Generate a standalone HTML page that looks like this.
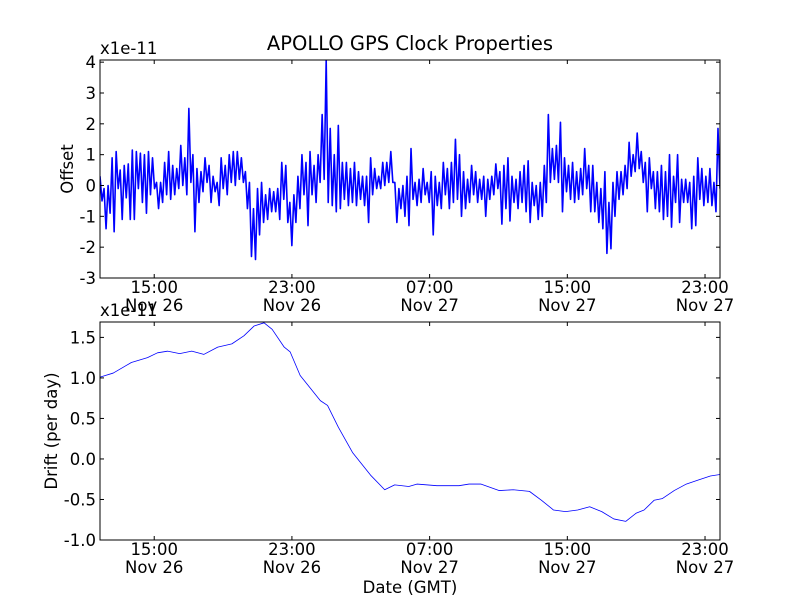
<!DOCTYPE html>
<html><head><meta charset="utf-8"><style>
body{margin:0;background:#fff}
svg text{font-family:"DejaVu Sans","Liberation Sans",sans-serif;fill:#000}
</style></head><body>
<svg id="chart" width="800" height="600" viewBox="0 0 800 600" xmlns="http://www.w3.org/2000/svg">
<rect width="800" height="600" fill="#fff"/>
<text x="410" y="50" font-size="19.5" text-anchor="middle">APOLLO GPS Clock Properties</text>
<g id="g1"></g>
<g id="g2"></g>
<text x="410" y="593" font-size="16.5" text-anchor="middle">Date (GMT)</text>
</svg>
<script>
const tStart = 11.85, tEnd = 47.87;
const xTickHours = [15, 23, 31, 39, 47];
const xTickTimes = ["15:00","23:00","07:00","15:00","23:00"];
const xTickDates = ["Nov 26","Nov 26","Nov 27","Nov 27","Nov 27"];
const offsetTicks = [-3,-2,-1,0,1,2,3,4];
const offsetTickLabels = ["-3","-2","-1","0","1","2","3","4"];
const driftTicks = [-1.0,-0.5,0.0,0.5,1.0,1.5];
const driftTickLabels = ["-1.0","-0.5","0.0","0.5","1.0","1.5"];
const offsetValues = [0.3,-0.5,-0.1,-1.4,0,-0.9,0.9,-1.5,1.1,-0.1,0.5,-1.1,0.65,-0.4,0.7,-1.1,1.15,-1.1,1.1,-0.1,1.05,-0.55,1.0,-0.9,1.1,-0.3,0.9,-0.1,0.1,-0.75,0.1,-0.55,0.75,-0.3,1.1,-0.45,0.65,-0.3,0.55,-0.1,1.3,0,0.9,-0.3,2.5,0.1,1.0,-1.5,0.55,-0.55,0.45,-0.2,0.9,0.1,0.65,-0.55,0.3,-0.2,0.1,-0.65,0.9,-0.1,0.65,-0.3,1.0,0.1,1.1,0,1.1,0.2,0.9,0.1,0.45,-0.75,0.1,-2.3,-0.75,-2.4,-0.1,-1.6,0.1,-1.2,-0.3,-1.1,-0.1,-0.85,-0.2,-0.85,-0.1,-1.1,0.75,-0.45,0.65,-1.2,-0.55,-1.95,-0.3,-1.2,0.3,-0.75,1.0,-0.3,0.75,-1.3,1.1,-0.3,0.65,-0.55,1.0,0.1,2.3,0.2,4.07,-0.55,1.85,-0.65,1.0,-0.85,1.95,-0.75,0.75,-0.45,0.75,-0.65,0.55,-0.55,0.75,-0.65,0.45,-0.45,0.3,-0.65,0.3,-1.2,0.9,-0.3,0.55,-0.1,0.3,-0.1,0.75,0,0.75,0.1,1.1,0.1,0.1,-1.2,-0.1,-0.75,0,-1.0,0.3,-1.3,
1.2,-0.45,0.1,-0.65,0.2,-0.55,0.55,-0.3,0.1,-0.55,0.45,-1.6,0.3,-0.65,0.1,-0.75,0.75,-0.3,0.55,-0.75,0.75,-0.55,1.5,-0.45,1.0,-1.0,0.45,-0.75,0.2,-0.55,0.65,-0.3,0.45,-0.55,0.2,-0.45,0.3,-1.0,0.2,-0.45,0.3,-0.3,0.7,-0.1,0.45,-1.25,0.65,-0.75,0.9,-1.15,0.3,-0.55,0.2,-0.75,0.45,-0.55,0.65,-0.85,0.8,-1.2,0.1,-0.65,0,-1.1,0.1,-1.0,0.65,-0.55,2.3,0.1,1.2,0.2,1.3,0.1,2.05,-0.85,0.9,-0.2,0.65,-0.45,0.75,-0.55,0.45,-0.45,0.55,-0.3,1.2,-0.1,0.65,-0.85,0.65,-0.85,0.1,-1.2,-0.1,-1.4,0.45,-2.2,-0.55,-2.05,0.1,-1.0,0.45,-0.45,0.45,-0.3,0.65,-0.1,1.4,0.3,1.0,0.45,1.7,0.55,1.1,0.1,0.75,-0.85,0.9,-0.1,0.45,-0.75,0.45,-0.85,0.65,-1.1,0.45,-1.0,1.0,-1.35,0.3,-0.55,1.0,-1.2,0.2,-0.55,0.2,-0.55,0.1,-1.4,0.3,-1.3,0.9,-0.45,0.55,-0.65,0.3,-0.55,0.55,-0.65,0.1,-0.85,1.85,-0.1];
const driftHours = [11.85,12.62,13.67,14.61,15.19,15.77,16.48,17.18,17.88,18.69,19.51,20.21,20.80,21.38,21.85,22.55,22.90,23.48,24.65,25.07,25.70,26.52,27.57,28.39,28.97,29.79,30.26,31.42,32.71,33.29,33.99,35.05,35.86,36.80,37.50,38.20,38.90,39.60,40.30,41.00,41.70,42.40,42.99,43.46,44.04,44.51,45.21,45.91,46.61,47.31,47.92];
const driftValues = [1.01,1.06,1.19,1.25,1.31,1.33,1.30,1.33,1.29,1.38,1.42,1.52,1.64,1.68,1.60,1.38,1.32,1.03,0.72,0.66,0.39,0.08,-0.20,-0.38,-0.32,-0.34,-0.31,-0.33,-0.33,-0.31,-0.31,-0.39,-0.38,-0.40,-0.51,-0.63,-0.65,-0.63,-0.59,-0.65,-0.74,-0.77,-0.67,-0.63,-0.51,-0.49,-0.39,-0.31,-0.26,-0.21,-0.19];

const NS='http://www.w3.org/2000/svg';
function mk(parent,tag,attrs,txt){const e=document.createElementNS(NS,tag);for(const k in attrs)e.setAttribute(k,attrs[k]);if(txt!==undefined)e.textContent=txt;parent.appendChild(e);return e;}
const L=100,R=720;
const xs=h=>L+(h-tStart)/(tEnd-tStart)*(R-L);

function panel(g,top,bot,ymin,ymax,ticks,labels,ylabel,ylx,lineW,hrs,vals){
  const ys=v=>bot-(v-ymin)/(ymax-ymin)*(bot-top);
  let d='';
  for(let i=0;i<vals.length;i++){
    const h=hrs?hrs[i]:tStart+i/(vals.length-1)*(tEnd-tStart);
    d+=(i?'L':'M')+xs(h).toFixed(2)+' '+ys(vals[i]).toFixed(2);
  }
  const clip=mk(g,'clipPath',{id:'c'+top});
  mk(clip,'rect',{x:L,y:top,width:R-L,height:bot-top});
  const line=mk(g,'path',{d:d,fill:'none',stroke:'#0000ff','stroke-width':lineW,'stroke-linejoin':'round','clip-path':'url(#c'+top+')'});
  
  
  ticks.forEach((v,i)=>{
    const y=ys(v);
    mk(g,'line',{x1:L,x2:L+4,y1:y,y2:y,stroke:'#000'});
    mk(g,'line',{x1:R-4,x2:R,y1:y,y2:y,stroke:'#000'});
    const t=mk(g,'text',{x:L-4,y:y+6,'font-size':16.5,'text-anchor':'end'},labels[i]);
    
    
  });
  xTickHours.forEach((h,i)=>{
    const x=xs(h);
    mk(g,'line',{x1:x,x2:x,y1:bot,y2:bot-4,stroke:'#000'});
    mk(g,'line',{x1:x,x2:x,y1:top,y2:top+4,stroke:'#000'});
    const t1=mk(g,'text',{x:x,y:bot+15,'font-size':16.5,'text-anchor':'middle'},xTickTimes[i]);
    
    
    const t2=mk(g,'text',{x:x,y:bot+33,'font-size':16.5,'text-anchor':'middle'},xTickDates[i]);
    
    
  });
  const fr=mk(g,'rect',{x:L,y:top,width:R-L,height:bot-top,fill:'none',stroke:'#000','stroke-width':1});
  
  
  const ex=mk(g,'text',{x:L,y:top-6,'font-size':16.5},'x1e-11');
  
  
  const cy=(top+bot)/2;
  const yl=mk(g,'text',{x:ylx,y:cy,'font-size':16.5,'text-anchor':'middle',transform:'rotate(-90 '+ylx+' '+cy+')'},ylabel);
  
  
}
panel(document.getElementById('g1'),60,278,-3,4.07,offsetTicks,offsetTickLabels,'Offset',73,1.6,null,offsetValues);
panel(document.getElementById('g2'),322,540,-1.0,1.69,driftTicks,driftTickLabels,'Drift (per day)',57,0.8,driftHours,driftValues);
</script>
</body></html>
